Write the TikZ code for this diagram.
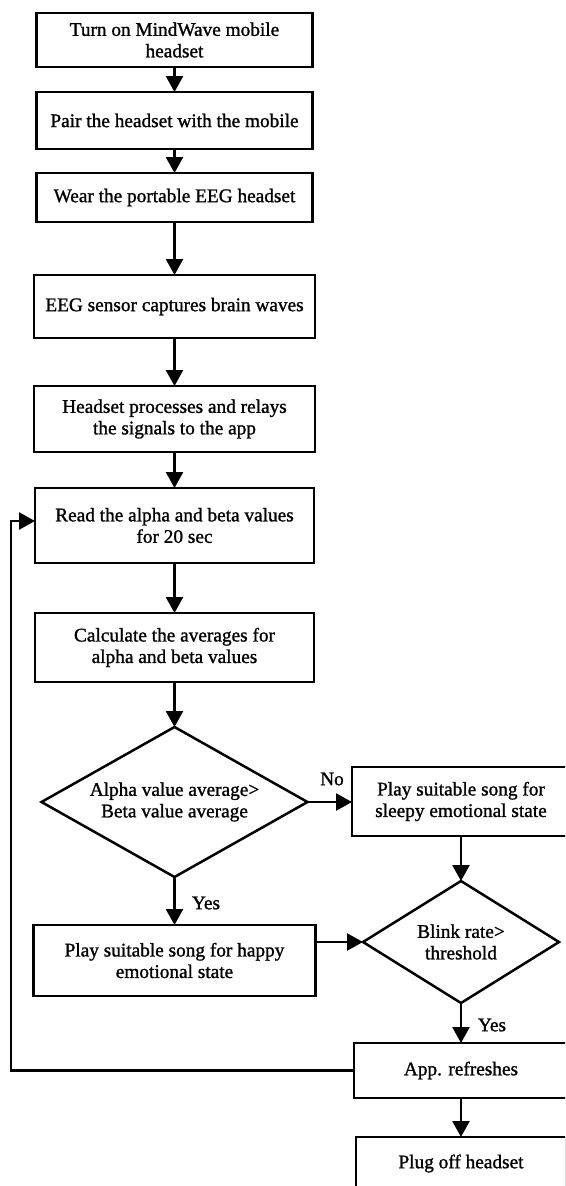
\documentclass[tikz,border=0pt]{standalone}
\usepackage{fontspec}
\setmainfont{Liberation Serif}[FakeBold=1.2]
\usetikzlibrary{shapes.geometric,arrows.meta}
\begin{document}
\begin{tikzpicture}[x=1pt,y=-1pt,
  font=\fontsize{19.3}{21.5}\selectfont\addfontfeature{FakeBold=1.2},
  box/.style={draw,line width=2.5pt,rectangle,align=center,inner sep=0pt,outer sep=0pt},
  dec/.style={draw,line width=2.5pt,diamond,align=center,inner sep=0pt,outer sep=0pt},
  arr/.style={line width=2.5pt,-{Triangle[length=16pt,width=17pt]}},
  lbl/.style={inner sep=0pt}]
\useasboundingbox (0,0) rectangle (565,1186);
\clip (0,0) rectangle (565,1186);

\node[box,minimum width=276pt,minimum height=54pt] (b1) at (174.5,40) {Turn on MindWave mobile\\headset};
\node[box,minimum width=276pt,minimum height=57pt] (b2) at (174.5,120.5) {Pair the headset with the mobile};
\node[box,minimum width=276pt,minimum height=49pt] (b3) at (174.5,197.5) {Wear the portable EEG headset};
\node[box,minimum width=281pt,minimum height=63pt] (b4) at (174.5,306.5) {EEG sensor captures brain waves};
\node[box,minimum width=281pt,minimum height=66pt] (b5) at (174.5,419) {Headset processes and relays\\the signals to the app};
\node[box,minimum width=279pt,minimum height=75pt] (b6) at (174.5,525.5) {Read the alpha and beta values\\for 20 sec};
\node[box,minimum width=279pt,minimum height=69pt] (b7) at (174.5,647.5) {Calculate the averages for\\alpha and beta values};
\node[dec,shape aspect=1.77,minimum width=266pt,minimum height=150pt] (d1) at (174.5,802) {Alpha value average>\\Beta value average};
\node[box,minimum width=218pt,minimum height=69pt] (b8) at (461,801.5) {Play suitable song for\\sleepy emotional state};
\node[dec,shape aspect=1.6,minimum width=196pt,minimum height=122pt] (d2) at (461,942) {Blink rate>\\threshold};
\node[box,minimum width=282pt,minimum height=71pt] (b9) at (174.5,960.5) {Play suitable song for happy\\emotional state};
\node[box,minimum width=214pt,minimum height=55pt] (b10) at (461,1070.5) {App. refreshes};
\node[box,minimum width=210pt,minimum height=53pt] (b11) at (461,1163.5) {Plug off headset};

\draw[arr] (b1) -- (b2);
\draw[arr] (b2) -- (b3);
\draw[arr] (b3) -- (b4);
\draw[arr] (b4) -- (b5);
\draw[arr] (b5) -- (b6);
\draw[arr] (b6) -- (b7);
\draw[arr] (b7) -- (d1);
\draw[arr] (d1.east) -- (d1.east -| b8.west);
\draw[arr] (d1) -- (b9);
\draw[arr] (b8) -- (d2);
\draw[arr] (b9.east |- d2.west) -- (d2.west);
\draw[arr] (d2) -- (b10);
\draw[arr] (b10) -- (b11);
\coordinate (fb) at (11,521);
\draw[arr] (b10.west) -| (fb) -- (fb -| b6.west);

\node[lbl] (lno) at (332,779) {No};
\node[lbl] (lyes1) at (206,903) {Yes};
\node[lbl] (lyes2) at (492,1025) {Yes};
\end{tikzpicture}
\end{document}
